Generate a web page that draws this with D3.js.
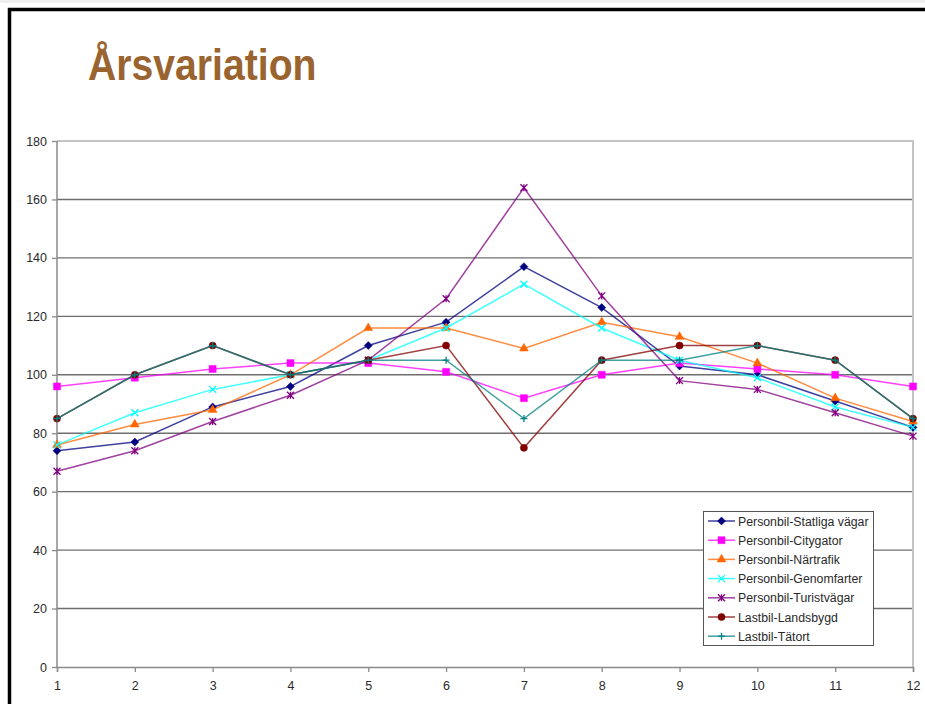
<!DOCTYPE html>
<html>
<head>
<meta charset="utf-8">
<script src="https://cdn.jsdelivr.net/npm/d3@7"></script>
<style>
  html, body { margin: 0; padding: 0; background: #fff; }
  svg { display: block; }
  text { font-family: "Liberation Sans", Arial, sans-serif; }
</style>
</head>
<body>
<svg id="chart" width="925" height="704"></svg>
<script>
// Month index on the x axis
const months = [1, 2, 3, 4, 5, 6, 7, 8, 9, 10, 11, 12];
const yTicks = [0, 20, 40, 60, 80, 100, 120, 140, 160, 180];

// Index values per month for each traffic type
const statligaVagar = [74, 77, 89, 96, 110, 118, 137, 123, 103, 100, 91, 82];
const citygator     = [96, 99, 102, 104, 104, 101, 92, 100, 104, 102, 100, 96];
const nartrafik     = [76, 83, 88, 100, 116, 116, 109, 118, 113, 104, 92, 84];
const genomfarter   = [76, 87, 95, 100, 105, 116, 131, 116, 105, 99, 89, 82];
const turistvagar   = [67, 74, 84, 93, 105, 126, 164, 127, 98, 95, 87, 79];
const landsbygd     = [85, 100, 110, 100, 105, 110, 75, 105, 110, 110, 105, 85];
const tatort        = [85, 100, 110, 100, 105, 105, 85, 105, 105, 110, 105, 85];

const seriesNames = [
  "Personbil-Statliga vägar", "Personbil-Citygator", "Personbil-Närtrafik",
  "Personbil-Genomfarter", "Personbil-Turistvägar", "Lastbil-Landsbygd", "Lastbil-Tätort"
];
const seriesValues = [statligaVagar, citygator, nartrafik, genomfarter, turistvagar, landsbygd, tatort];
const seriesColors = ["#000080", "#ff00ff", "#ff6600", "#00ffff", "#800080", "#800000", "#008080"];
const seriesMarkers = ["diamond", "square", "triangle", "cross", "star", "circle", "plus"];

const svg = d3.select("#chart");

// Slide frame
svg.append("rect").attr("x", 0).attr("y", 0).attr("width", 925).attr("height", 3).attr("fill", "#eeeeee");
svg.append("path")
  .attr("d", "M9.5,704 V9.5 H925")
  .attr("fill", "none").attr("stroke", "#000").attr("stroke-width", 3.5);

// Heading
svg.append("text")
  .attr("transform", "translate(88,80) scale(0.89,1)")
  .attr("font-size", 44).attr("font-weight", "bold")
  .attr("fill", "#9a6430")
  .text("Årsvariation");

const plot = { left: 57, right: 913, top: 141, bottom: 667 };
const x = d3.scaleLinear().domain([1, 12]).range([plot.left, plot.right]);
const y = d3.scaleLinear().domain([0, 180]).range([plot.bottom, plot.top]);

// Horizontal gridlines
svg.append("g").selectAll("line")
  .data(yTicks.filter(t => t > 0 && t < 180))
  .join("line")
  .attr("x1", plot.left).attr("x2", plot.right)
  .attr("y1", d => y(d)).attr("y2", d => y(d))
  .attr("stroke", "#6e6e6e").attr("stroke-width", 1.4);

// Plot area border (top and right)
svg.append("path")
  .attr("d", `M${plot.left},${plot.top} H${plot.right} V${plot.bottom}`)
  .attr("fill", "none").attr("stroke", "#c4c4c4").attr("stroke-width", 2);

// Axes
const yAxis = d3.axisLeft(y).tickValues(yTicks).tickSize(5).tickPadding(5);
const xAxis = d3.axisBottom(x).tickValues(months).tickSize(5).tickPadding(9).tickFormat(d3.format("d"));

const gy = svg.append("g").attr("transform", `translate(${plot.left},0)`).call(yAxis);
const gx = svg.append("g").attr("transform", `translate(0,${plot.bottom})`).call(xAxis);
[gx, gy].forEach(g => {
  g.select(".domain").attr("stroke", "#8a8a8a").attr("stroke-width", 1.5);
  g.selectAll(".tick line").attr("stroke", "#8a8a8a").attr("stroke-width", 1.3);
  g.selectAll(".tick text")
    .attr("font-family", "'Liberation Sans', Arial, sans-serif")
    .attr("font-size", 12.5).attr("fill", "#2a2a2a");
});
gy.select(".domain").attr("d", `M0,${plot.top}V${plot.bottom}`);

// Marker shapes
function markerPath(kind, s) {
  const h = s / 2;
  switch (kind) {
    case "diamond": return `M0,${-h - 0.5}L${h + 0.5},0L0,${h + 0.5}L${-h - 0.5},0Z`;
    case "square": return `M${-h},${-h}H${h}V${h}H${-h}Z`;
    case "triangle": return d3.symbol(d3.symbolTriangle, 34)();
    case "circle": return d3.symbol(d3.symbolCircle, 40)();
    case "cross": return `M${-h},${-h}L${h},${h}M${-h},${h}L${h},${-h}`;
    case "star": return `M${-h},${-h}L${h},${h}M${-h},${h}L${h},${-h}M0,${-h}V${h}`;
    case "plus": return `M${-h},0H${h}M0,${-h}V${h}`;
  }
}
const stroked = k => k === "cross" || k === "star" || k === "plus";

const line = d3.line().x((d, i) => x(months[i])).y(d => y(d));

seriesValues.forEach((vals, si) => {
  const g = svg.append("g");
  const col = seriesColors[si];
  g.append("path")
    .attr("d", line(vals))
    .attr("fill", "none").attr("stroke", col)
    .attr("stroke-width", 1.5).attr("stroke-opacity", 0.75);
  g.selectAll("path.m")
    .data(vals)
    .join("path")
    .attr("class", "m")
    .attr("transform", (d, i) => `translate(${x(months[i])},${y(d)})`)
    .attr("d", markerPath(seriesMarkers[si], 7))
    .attr("fill", stroked(seriesMarkers[si]) ? "none" : col)
    .attr("stroke", col)
    .attr("stroke-width", stroked(seriesMarkers[si]) ? 1.3 : 0.5);
});

// Legend
const legend = svg.append("g");
legend.append("rect")
  .attr("x", 703.5).attr("y", 511.5).attr("width", 170).attr("height", 134)
  .attr("fill", "#fff").attr("stroke", "#555").attr("stroke-width", 1);
seriesNames.forEach((name, si) => {
  const cy = 521 + si * 19.2;
  const col = seriesColors[si];
  legend.append("line")
    .attr("x1", 708).attr("x2", 735).attr("y1", cy).attr("y2", cy)
    .attr("stroke", col).attr("stroke-width", 1.5).attr("stroke-opacity", 0.75);
  legend.append("path")
    .attr("transform", `translate(721.5,${cy})`)
    .attr("d", markerPath(seriesMarkers[si], 7))
    .attr("fill", stroked(seriesMarkers[si]) ? "none" : col)
    .attr("stroke", col)
    .attr("stroke-width", stroked(seriesMarkers[si]) ? 1.3 : 0.5);
  legend.append("text")
    .attr("x", 738).attr("y", cy + 4.5)
    .attr("font-size", 12.3).attr("fill", "#2a2a2a")
    .text(name);
});
</script>
</body>
</html>
